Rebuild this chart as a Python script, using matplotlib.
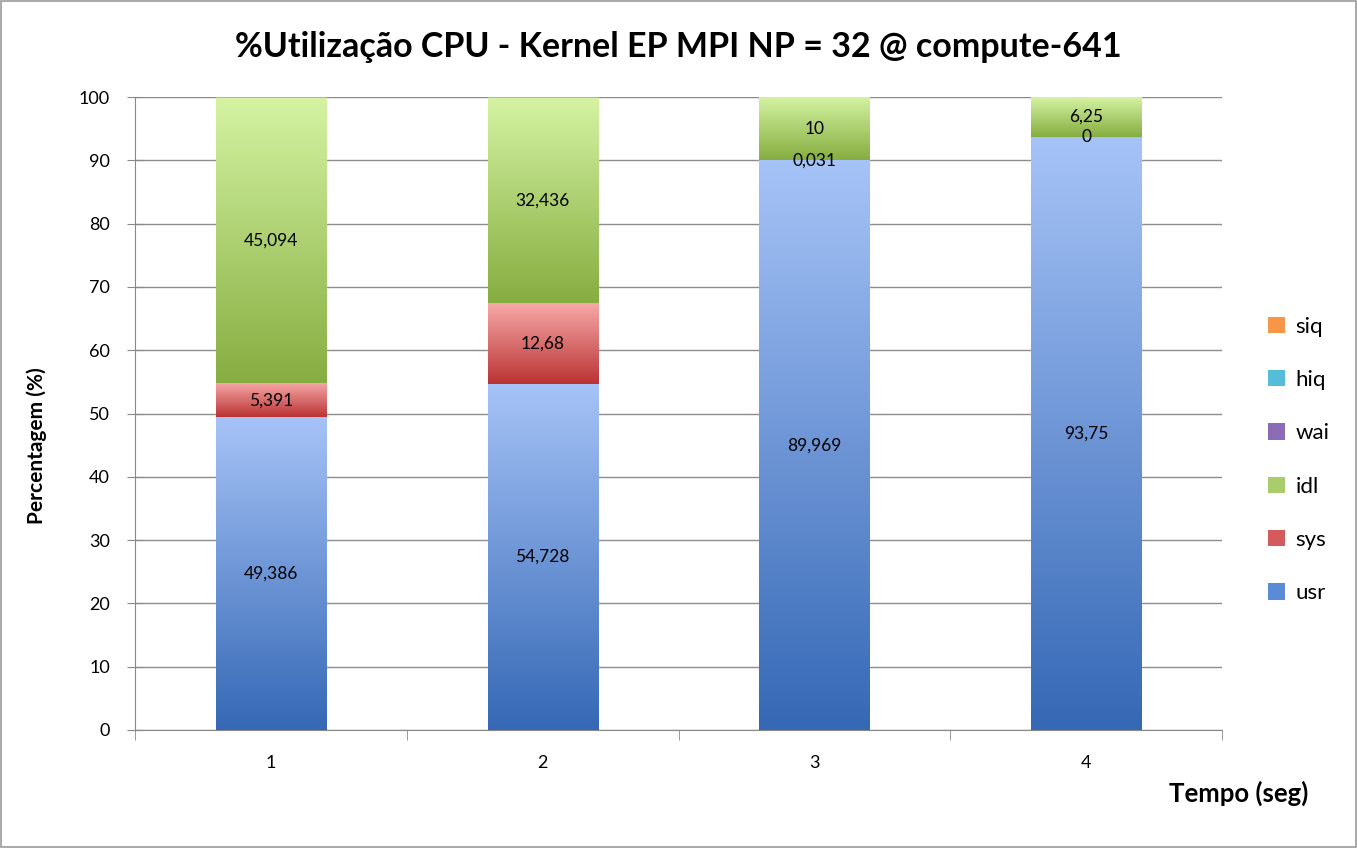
import matplotlib
matplotlib.use("Agg")
import matplotlib.pyplot as plt
import numpy as np
from matplotlib.colors import LinearSegmentedColormap
from matplotlib.patches import Rectangle

plt.rcParams['font.family'] = ['Lato', 'DejaVu Sans']

categories = ['1', '2', '3', '4']
usr = [49.386, 54.728, 89.969, 93.75]
sys_ = [5.391, 12.68, 0.031, 0.0]
idl = [45.094, 32.436, 10.0, 6.25]
wai = [0.0, 0.0, 0.0, 0.0]
hiq = [0.0, 0.0, 0.0, 0.0]
siq = [0.129, 0.156, 0.0, 0.0]

usr_lbl = ['49,386', '54,728', '89,969', '93,75']
sys_lbl = ['5,391', '12,68', '0,031', '0']
idl_lbl = ['45,094', '32,436', '10', '6,25']

series = [
    ('usr', usr, usr_lbl, ('#a6c3f7', '#3568b5'), '#5b8ad6'),
    ('sys', sys_, sys_lbl, ('#f6a9a8', '#bb3334'), '#d35b5b'),
    ('idl', idl, idl_lbl, ('#d5f3a3', '#86ad40'), '#a8cd6a'),
    ('wai', wai, None, ('#b9a2d6', '#70529c'), '#8b6cb6'),
    ('hiq', hiq, None, ('#8fd9ef', '#30a3c5'), '#55bcd9'),
    ('siq', siq, None, ('#fbb27c', '#ef7f2f'), '#f79646'),
]

fig = plt.figure(figsize=(13.57, 8.48), dpi=100)
ax = fig.add_axes([135/1357, 1-730/848, (1222-135)/1357, (730-97)/848])

x = np.arange(len(categories)) + 1
bottom = np.zeros(len(categories))
width = 0.405
handles = []
for name, vals, lbls, (ctop, cbot), solid in series:
    v = np.array(vals)
    bars = ax.bar(x, v, width, bottom=bottom, color='none', edgecolor='none', zorder=3, label=name)
    cmap = LinearSegmentedColormap.from_list(name, [cbot, ctop])
    grad = np.linspace(0, 1, 256).reshape(-1, 1)
    for p in bars.patches:
        if p.get_height() <= 0:
            continue
        x0, y0 = p.get_x(), p.get_y()
        w, h = p.get_width(), p.get_height()
        im = ax.imshow(grad, cmap=cmap, origin='lower', aspect='auto',
                       extent=[x0, x0 + w, y0, y0 + h], zorder=3, interpolation='bilinear')
        im.set_clip_path(p)
    if lbls is not None:
        ax.bar_label(bars, labels=lbls, label_type='center', fontsize=12.5, color='black', zorder=5)
    bottom = bottom + v
    handles.append(Rectangle((0, 0), 1, 1, facecolor=solid, edgecolor='none'))

ax.set_xlim(0.5, 4.5)
ax.set_ylim(0, 100)
ax.set_yticks(np.arange(0, 101, 10))
ax.tick_params(axis='y', labelsize=13, length=12, color='#888888', pad=12, direction='inout')
ax.set_xticks(x)
ax.set_xticklabels(categories, fontsize=13)
ax.tick_params(axis='x', length=0, pad=18)
ax.set_xticks(np.arange(0.5, 4.6, 1), minor=True)
ax.tick_params(axis='x', which='minor', length=7, color='#888888', direction='out')
ax.grid(axis='y', color='#8c8c8c', linewidth=1.0, zorder=0)
for s in ['top', 'right']:
    ax.spines[s].set_visible(False)
ax.spines['left'].set_color('#888888')
ax.spines['bottom'].set_color('#888888')

fig.text(0.5, 1-47/848, '%Utilização CPU - Kernel EP MPI NP = 32 @ compute-641',
         ha='center', va='center', fontsize=24.5, fontweight='bold')
fig.text(37/1357, 1-446/848, 'Percentagem (%)', rotation=90, ha='center', va='center',
         rotation_mode='anchor', fontsize=15, fontweight='bold')
fig.text(1239/1357, 1-793/848, 'Tempo (seg)', ha='center', va='center', fontsize=18.5, fontweight='bold')

leg = fig.legend(handles[::-1], [s[0] for s in series][::-1], loc='center left',
                 bbox_to_anchor=(1248/1357, 1-460/848), frameon=False, fontsize=16,
                 handlelength=0.75, handleheight=0.75, labelspacing=1.5, handletextpad=0.5)

border = Rectangle((0.001, 0.001), 0.998, 0.998, transform=fig.transFigure, fill=False,
                   edgecolor='#9a9a9a', linewidth=1.2)
fig.patches.append(border)

fig.savefig('out.png', dpi=100)
